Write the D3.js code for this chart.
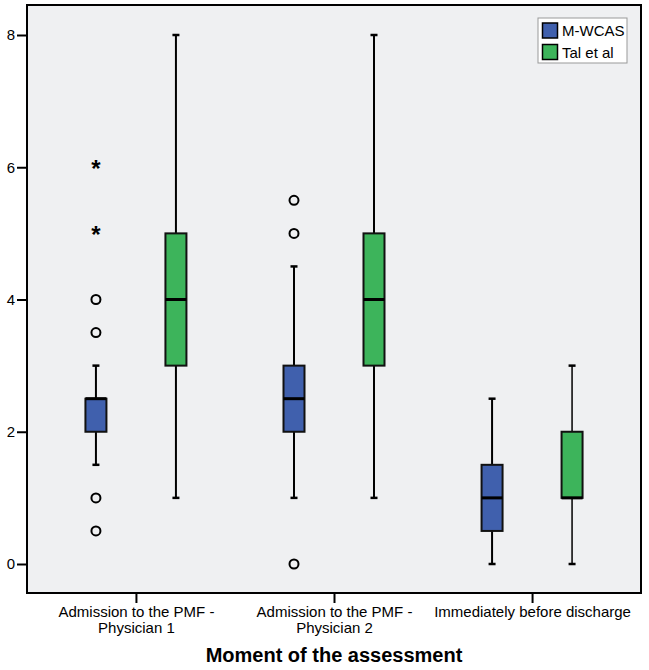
<!DOCTYPE html>
<html>
<head>
<meta charset="utf-8">
<script src="https://cdn.jsdelivr.net/npm/d3@7"></script>
<style>
  body { margin: 0; background: #fff; }
  text { font-family: "Liberation Sans", Arial, sans-serif; }
</style>
</head>
<body>
<svg id="chart" width="649" height="670"></svg>
<script>
// categories on the x axis (split in lines as printed)
const categories = ["Admission to the PMF - Physician 1", "Admission to the PMF - Physician 2", "Immediately before discharge"];
const categoryLines = [["Admission to the PMF -", "Physician 1"], ["Admission to the PMF -", "Physician 2"], ["Immediately before discharge"]];
const series = ["M-WCAS", "Tal et al"];
const seriesColors = ["#4060ad", "#3db45b"];

// five number summaries, one per category
const mwcasStats = [
  {min: 1.5, q1: 2, median: 2.5, q3: 2.5, max: 3},
  {min: 1, q1: 2, median: 2.5, q3: 3, max: 4.5},
  {min: 0, q1: 0.5, median: 1, q3: 1.5, max: 2.5}
];
const talStats = [
  {min: 1, q1: 3, median: 4, q3: 5, max: 8},
  {min: 1, q1: 3, median: 4, q3: 5, max: 8},
  {min: 0, q1: 1, median: 1, q3: 2, max: 3}
];
// outliers (circles) and extremes (stars)
const mwcasOutliers = [[4, 3.5, 1, 0.5], [5.5, 5, 0], []];
const mwcasExtremes = [[6, 5], [], []];
const talOutliers = [[], [], []];
const talExtremes = [[], [], []];

const yTicks = [0, 2, 4, 6, 8];
const xTitle = "Moment of the assessment";

const svg = d3.select("#chart");

// frame of the plot area
const frame = {left: 27, right: 641, top: 5, bottom: 593};

var xScale = d3.scalePoint()
  .domain(categories)
  .range([frame.left, frame.right])
  .padding(0.55);

var xOffset = d3.scalePoint()
  .domain(series)
  .range([-40, 40]);

var yScale = d3.scaleLinear()
  .domain([0, 8])
  .range([564, 35]);

svg.append("rect")
  .attr("x", frame.left)
  .attr("y", frame.top)
  .attr("width", frame.right - frame.left)
  .attr("height", frame.bottom - frame.top)
  .attr("fill", "#eff0f2");

// y axis
var yAxis = svg.append("g")
  .attr("transform", "translate(" + frame.left + ",0)")
  .call(d3.axisLeft(yScale).tickValues(yTicks).tickSize(10).tickPadding(2).tickFormat(d3.format("d")));
yAxis.select(".domain").remove();
yAxis.selectAll(".tick line").attr("stroke", "#000").attr("stroke-width", 2);
yAxis.selectAll("text").style("font-size", "15px").attr("fill", "#000");

// x axis
var xAxis = svg.append("g")
  .attr("transform", "translate(0," + frame.bottom + ")")
  .call(d3.axisBottom(xScale).tickSize(10).tickFormat(""));
xAxis.select(".domain").remove();
xAxis.selectAll(".tick line").attr("stroke", "#000").attr("stroke-width", 2);
xAxis.selectAll(".tick").each(function(d, i) {
  var t = d3.select(this).append("text")
    .attr("fill", "#000")
    .attr("text-anchor", "middle")
    .style("font-size", "15px");
  categoryLines[i].forEach(function(line, j) {
    t.append("tspan").attr("x", 0).attr("y", 24 + j * 16).text(line);
  });
});

svg.append("text")
  .attr("x", (frame.left + frame.right) / 2)
  .attr("y", 662)
  .attr("text-anchor", "middle")
  .style("font-size", "20px")
  .style("font-weight", "bold")
  .text(xTitle);

// boxes
var allStats = [mwcasStats, talStats];
var allOutliers = [mwcasOutliers, talOutliers];
var allExtremes = [mwcasExtremes, talExtremes];
var boxWidth = 21;

series.forEach(function(s, si) {
  var g = svg.append("g");
  categories.forEach(function(c, ci) {
    var d = allStats[si][ci];
    var cx = xScale(c) + xOffset(s);
    var wStroke = (si === 1 && ci === 2) ? 1.5 : 2;
    // whiskers
    g.append("line").attr("x1", cx).attr("x2", cx)
      .attr("y1", yScale(d.max)).attr("y2", yScale(d.q3))
      .attr("stroke", "#000").attr("stroke-width", wStroke);
    g.append("line").attr("x1", cx).attr("x2", cx)
      .attr("y1", yScale(d.q1)).attr("y2", yScale(d.min))
      .attr("stroke", "#000").attr("stroke-width", wStroke);
    [d.max, d.min].forEach(function(v) {
      g.append("line").attr("x1", cx - 3.5).attr("x2", cx + 3.5)
        .attr("y1", yScale(v)).attr("y2", yScale(v))
        .attr("stroke", "#000").attr("stroke-width", 2.5);
    });
    g.append("rect")
      .attr("x", cx - boxWidth / 2)
      .attr("y", yScale(d.q3))
      .attr("width", boxWidth)
      .attr("height", yScale(d.q1) - yScale(d.q3))
      .attr("fill", seriesColors[si])
      .attr("stroke", "#111")
      .attr("stroke-width", 2);
    g.append("line")
      .attr("x1", cx - boxWidth / 2).attr("x2", cx + boxWidth / 2)
      .attr("y1", yScale(d.median)).attr("y2", yScale(d.median))
      .attr("stroke", "#000").attr("stroke-width", 3);
    allOutliers[si][ci].forEach(function(v) {
      g.append("circle").attr("cx", cx).attr("cy", yScale(v)).attr("r", 4.5)
        .attr("fill", "none").attr("stroke", "#000").attr("stroke-width", 2);
    });
    allExtremes[si][ci].forEach(function(v) {
      g.append("text").attr("x", cx).attr("y", yScale(v) + 10)
        .attr("text-anchor", "middle")
        .style("font-size", "24px").style("font-weight", "bold")
        .text("*");
    });
  });
});

// frame border on top
svg.append("rect")
  .attr("x", frame.left)
  .attr("y", frame.top)
  .attr("width", frame.right - frame.left)
  .attr("height", frame.bottom - frame.top)
  .attr("fill", "none")
  .attr("stroke", "#000")
  .attr("stroke-width", 2);

// legend
var legend = svg.append("g").attr("transform", "translate(538,18)");
legend.append("rect").attr("width", 89).attr("height", 45)
  .attr("fill", "#fff").attr("stroke", "#999").attr("stroke-width", 1);
series.forEach(function(s, i) {
  legend.append("rect").attr("x", 4.5).attr("y", 5 + i * 21.5).attr("width", 15).attr("height", 15)
    .attr("fill", seriesColors[i]).attr("stroke", "#000").attr("stroke-width", 1.5);
  legend.append("text").attr("x", 24).attr("y", 18 + i * 21.5)
    .style("font-size", "15px").attr("fill", "#000").text(s);
});
</script>
</body>
</html>
